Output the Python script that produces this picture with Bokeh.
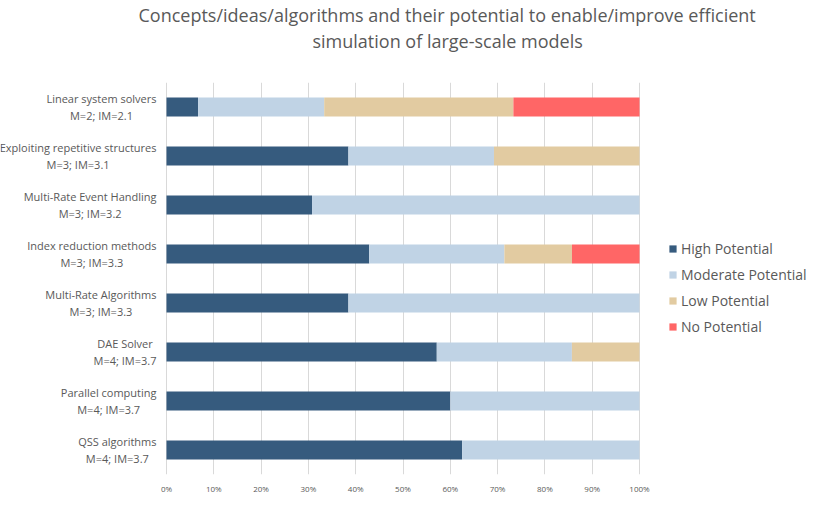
from bokeh.plotting import figure
from bokeh.models import Legend, LegendItem, NumeralTickFormatter, FixedTicker, Title, ColumnDataSource
from bokeh.core.properties import value
from bokeh.embed import file_html
from bokeh.resources import INLINE

names = [
    "Linear system solvers",
    "Exploiting repetitive structures",
    "Multi-Rate Event Handling",
    "Index reduction methods",
    "Multi-Rate Algorithms",
    "DAE Solver",
    "Parallel computing",
    "QSS algorithms",
]
m_vals = ["2", "3", "3", "3", "3", "4", "4", "4"]
im_vals = ["2.1", "3.1", "3.2", "3.3", "3.3", "3.7", "3.7", "3.7"]
high = [6.67, 38.46, 30.77, 42.86, 38.46, 57.14, 60.0, 62.5]
moderate = [26.67, 30.77, 69.23, 28.57, 61.54, 28.57, 40.0, 37.5]
low = [40.0, 30.77, 0.0, 14.29, 0.0, 14.29, 0.0, 0.0]
none_ = [26.67, 0.0, 0.0, 14.29, 0.0, 0.0, 0.0, 0.0]
series_names = ["High Potential", "Moderate Potential", "Low Potential", "No Potential"]
colors = ["#365b7e", "#c0d3e5", "#e2cba1", "#ff6666"]
x_ticks = [0, 10, 20, 30, 40, 50, 60, 70, 80, 90, 100]

FONT = "Open Sans"
GRAY = "#595959"

categories = [f"{n}\nM={m}; IM={im}" for n, m, im in zip(names, m_vals, im_vals)]

data = {"cat": categories,
        "high": [v / 100 for v in high],
        "moderate": [v / 100 for v in moderate],
        "low": [v / 100 for v in low],
        "none": [v / 100 for v in none_]}
source = ColumnDataSource(data)

# frame spans the full width; 0..100% occupies 473 px starting 166 px from the left
W, H = 814, 496
left_px, span_px = 166, 473
x_start = -left_px / span_px
x_end = 1 + (W - left_px - span_px) / span_px

p = figure(width=W, height=H, y_range=list(reversed(categories)), x_range=(x_start, x_end),
           output_backend="svg", toolbar_location=None,
           min_border_left=0, min_border_right=0, min_border_top=0, min_border_bottom=0)
p.title = None

renderers = p.hbar_stack(["high", "moderate", "low", "none"], y="cat", height=0.39,
                         color=colors, source=source, line_width=0)

p.text(x=0, y="cat", text="cat", source=source, anchor="center_right", text_align="center",
       x_offset=-10, text_font=value(FONT), text_font_size="11px", text_color=GRAY,
       text_line_height=1.1)

spacer = Title(text=" ", text_font_size="20px", standoff=6)
t2 = Title(text="simulation of large-scale models", align="left", text_font=FONT,
           text_font_size="18px", text_color=GRAY, text_font_style="normal", offset=312, standoff=0)
t1 = Title(text="Concepts/ideas/algorithms and their potential to enable/improve efficient",
           align="left", text_font=FONT, text_font_size="18px", text_color=GRAY,
           text_font_style="normal", offset=138, standoff=0)
p.add_layout(spacer, "above")
p.add_layout(t2, "above")
p.add_layout(t1, "above")

p.xaxis.ticker = FixedTicker(ticks=[v / 100 for v in x_ticks])
p.xaxis.formatter = NumeralTickFormatter(format="0%")
p.xaxis.major_label_text_font = FONT
p.xaxis.major_label_text_font_size = "8px"
p.xaxis.major_label_text_color = GRAY
p.xaxis.major_label_standoff = 8
p.xaxis.axis_line_color = None
p.xaxis.major_tick_line_color = None
p.xaxis.minor_tick_line_color = None
p.xaxis.major_tick_out = 0
p.xaxis.major_tick_in = 0
p.yaxis.visible = False

p.xgrid.grid_line_color = "#d9d9d9"
p.ygrid.grid_line_color = None
p.outline_line_color = None
p.background_fill_color = "white"
p.border_fill_color = "white"

legend = Legend(items=[LegendItem(label=n, renderers=[r]) for n, r in zip(series_names, renderers)],
                location=(668, 138), orientation="vertical",
                label_text_font=FONT, label_text_font_size="14px", label_text_color=GRAY,
                glyph_width=9, glyph_height=9, label_height=20, spacing=6, padding=0, margin=0,
                border_line_color=None, background_fill_alpha=0, label_standoff=4)
p.add_layout(legend, "center")

open("out.html", "w").write(file_html(p, INLINE))
